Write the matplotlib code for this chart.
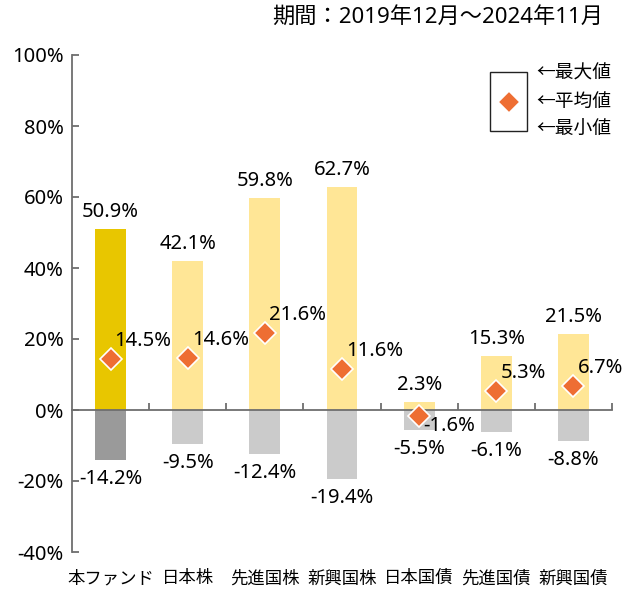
import matplotlib
matplotlib.use("Agg")
import matplotlib.pyplot as plt
from matplotlib.patches import Rectangle
from matplotlib.lines import Line2D

plt.rcParams['font.family'] = ['Noto Sans', 'Noto Sans CJK JP', 'DejaVu Sans']

categories = ['本ファンド', '日本株', '先進国株', '新興国株', '日本国債', '先進国債', '新興国債']
max_vals = [50.9, 42.1, 59.8, 62.7, 2.3, 15.3, 21.5]
avg_vals = [14.5, 14.6, 21.6, 11.6, -1.6, 5.3, 6.7]
min_vals = [-14.2, -9.5, -12.4, -19.4, -5.5, -6.1, -8.8]
yticks = [-40, -20, 0, 20, 40, 60, 80, 100]
title = '期間：2019年12月～2024年11月'

W, H = 637, 593
fig = plt.figure(figsize=(W / 100, H / 100), dpi=100)
ax = fig.add_axes([72 / W, (H - 552) / H, 540 / W, 497 / H])

pos_colors = ['#E8C600'] + ['#FFE696'] * 6
neg_colors = ['#9A9A9A'] + ['#CBCBCB'] * 6
x = list(range(len(categories)))
ax.bar(x, max_vals, width=0.4, color=pos_colors, zorder=1)
ax.bar(x, min_vals, width=0.4, color=neg_colors, zorder=1)
ax.plot(x, avg_vals, linestyle='none', marker='D', ms=11, color='#EE6E33',
        mec='white', mew=1.2, zorder=4)

fs = 14.5
for i in x:
    ax.annotate(f'{max_vals[i]:.1f}%', (i, max_vals[i]), xytext=(0, 17),
                textcoords='offset pixels', ha='center', va='center', fontsize=fs)
    ax.annotate(f'{min_vals[i]:.1f}%', (i, min_vals[i]), xytext=(0, -19),
                textcoords='offset pixels', ha='center', va='center', fontsize=fs)
    dy = 18 if avg_vals[i] >= 0 else -10
    ax.annotate(f'{avg_vals[i]:.1f}%', (i, avg_vals[i]), xytext=(4, dy),
                textcoords='offset pixels', ha='left', va='center', fontsize=fs, zorder=5)
    ax.text(i, -0.053, categories[i], transform=ax.get_xaxis_transform(),
            ha='center', va='center', fontsize=12.5)

ax.set_xlim(-0.5, 6.5)
ax.set_ylim(-40, 100)
ax.set_yticks(yticks)
ax.set_yticklabels([f'{v}%' for v in yticks], fontsize=14.5)
ax.set_xticks([i + 0.5 for i in range(7)])
ax.set_xticklabels([])

spine_c = '#6E6E6E'
for s in ['top', 'right']:
    ax.spines[s].set_visible(False)
ax.spines['bottom'].set_position(('data', 0))
ax.spines['bottom'].set_color(spine_c)
ax.spines['left'].set_color(spine_c)
ax.spines['bottom'].set_linewidth(1.3)
ax.spines['left'].set_linewidth(1.3)
ax.tick_params(axis='y', direction='in', length=5, width=1.3, color=spine_c, pad=6)
ax.tick_params(axis='x', direction='in', length=5, width=1.3, color=spine_c)

fig.text(603 / W, 1 - 17 / H, title, ha='right', va='center', fontsize=16)

# legend
fig.patches.append(Rectangle((490 / W, 1 - 131 / H), 37 / W, 59 / H, fill=False,
                             edgecolor='#222222', lw=1, transform=fig.transFigure))
fig.lines.append(Line2D([509 / W], [1 - 102 / H], marker='D', ms=11, color='#EE6E33',
                        mec='white', mew=1.2, transform=fig.transFigure))
for yy, lab in [(74, '←最大値'), (102, '←平均値'), (130, '←最小値')]:
    fig.text(536 / W, 1 - yy / H, lab, ha='left', va='center', fontsize=13.5)

fig.savefig('out.png', dpi=100)
